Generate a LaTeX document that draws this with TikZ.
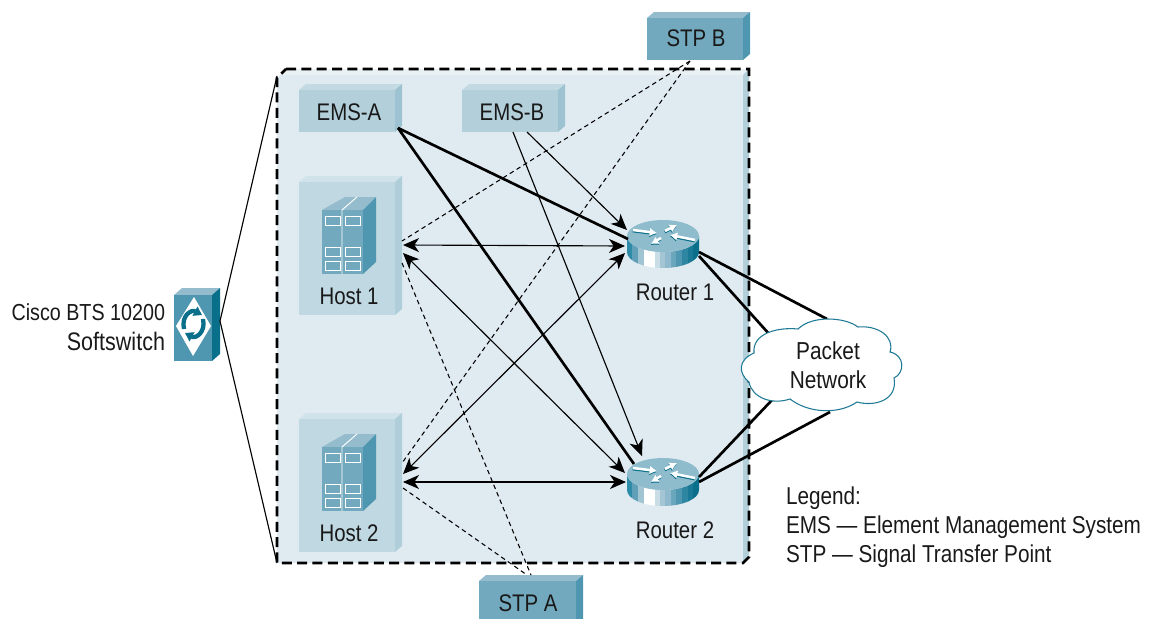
\documentclass[tikz,border=0pt]{standalone}
\usepackage{fontspec}
\setmainfont[FakeStretch=0.85]{Liberation Sans}
\usetikzlibrary{arrows.meta}
\definecolor{panelF}{HTML}{E0EBF1}
\definecolor{panelT}{HTML}{E9F1F5}
\definecolor{panelS}{HTML}{B3CFDA}
\definecolor{emsF}{HTML}{B3CFDA}
\definecolor{emsT}{HTML}{C3DAE3}
\definecolor{emsS}{HTML}{9DC3D2}
\definecolor{hostF}{HTML}{C0D8E2}
\definecolor{hostT}{HTML}{D0E2EA}
\definecolor{hostS}{HTML}{AFCEDA}
\definecolor{stpF}{HTML}{73A9BE}
\definecolor{stpT}{HTML}{94BCCC}
\definecolor{stpS}{HTML}{4F97B0}
\definecolor{swF}{HTML}{4F97B0}
\definecolor{swT}{HTML}{94BCCC}
\definecolor{swS}{HTML}{0A6F8A}
\definecolor{rtTop}{HTML}{8FBCCC}
\definecolor{cloudLine}{HTML}{1F7A96}
\tikzset{
  x=0.75pt,y=-0.75pt,
  face/.style={inner sep=0pt,outer sep=0pt},
  lbl/.style={inner sep=0pt,outer sep=0pt,font=\fontsize{18}{21}\selectfont,text=black!90},
  thickline/.style={black,line width=2pt},
  thinline/.style={black,line width=0.85pt},
  dashline/.style={black,line width=0.8pt,dash pattern=on 3.4pt off 2.6pt},
  tiptip/.style={arrows={Stealth[length=12pt,width=10.5pt,inset=3.5pt]-Stealth[length=12pt,width=10.5pt,inset=3.5pt]}},
  headtip/.style={-{Stealth[length=12pt,width=10.5pt,inset=3.5pt]}},
  border/.style={black,line width=1.9pt,dash pattern=on 7.5pt off 4pt},
  rarrow/.style={line width=1.9pt,-{Latex[length=5.5pt,width=6.5pt]}},
}
% name, x1, y1, x2, y2, palette
\newcommand\cubebox[6]{%
  \fill[#6T] (#2,#3) -- (#2+7,#3-6) -- (#4+7,#3-6) -- (#4,#3) -- cycle;
  \fill[#6S] (#4,#3) -- (#4+7,#3-6) -- (#4+7,#5-6) -- (#4,#5) -- cycle;
  \node[face,fill=#6F,minimum width={(#4-#2)*0.75pt},minimum height={(#5-#3)*0.75pt}] (#1) at ({(#2+#4)/2},{(#3+#5)/2}) {};
}
\newcommand\serverbody[2]{%
\begin{scope}[shift={(#1,#2)}]
  \fill[stpT] (322,210) -- (345,197) -- (376,197) -- (363,210) -- cycle;
  \fill[stpS] (363,210) -- (376,197) -- (376,262) -- (363,274) -- cycle;
  \fill[stpF] (322,210) rectangle (363,274);
  \draw[white,line width=0.7pt] (342,274) -- (342,210) -- (357,197);
  \foreach \yy/\hh in {216/9,247/9,261/9}
    \foreach \xx in {325,345}
      \draw[white,line width=0.6pt] (\xx,\yy) rectangle (\xx+15,\yy+\hh);
\end{scope}}
\newcommand\routerbody[2]{%
\begin{scope}[shift={(#1,#2)}]
  \begin{scope}
    \clip (-36,0) -- (-36,16) arc[start angle=180,end angle=0,x radius=36,y radius=16] -- (36,0) arc[start angle=0,end angle=180,x radius=36,y radius=16] -- cycle;
    \foreach \a/\b/\c in {-36/-31/2E8CA8,-31/-25/5FA0B8,-25/-19/A0C4D2,-19/-8/FFFFFF,-8/-3/C8DDE5,-3/2/A4C6D4,2/8/8FBACE,8/13/6AA6BC,13/19/4F97B0,19/25/2E86A2,25/30/1A7A96,30/37/0A6F8A}
      {\definecolor{tmpc}{HTML}{\c}\fill[tmpc] (\a,-16) rectangle (\b,34);}
  \end{scope}
  \fill[rtTop] (0,0) ellipse[x radius=36,y radius=16];
  \begin{scope}[shift={(-0.3,1.1)}]
    \draw[rarrow,swS] (-30,-6) -- (-6,-3);
    \draw[rarrow,swS] (2,-5) -- (14,-11);
    \draw[rarrow,swS] (32,4) -- (7,-1);
    \draw[rarrow,swS] (-2,2) -- (-12,8);
  \end{scope}
  \draw[rarrow,white] (-30,-6) -- (-6,-3);
  \draw[rarrow,white] (2,-5) -- (14,-11);
  \draw[rarrow,white] (32,4) -- (7,-1);
  \draw[rarrow,white] (-2,2) -- (-12,8);
\end{scope}}
\begin{document}
\begin{tikzpicture}
\useasboundingbox (0,0) rectangle (1159,618);
\clip (0,0) rectangle (1159,618);
% ports
\coordinate (swApex) at (220,321);
\coordinate (panelTL) at (277,76);
\coordinate (panelBL) at (277,563);
\coordinate (emsAout) at (398,128);
\coordinate (emsBoutA) at (527,132);
\coordinate (emsBoutB) at (513,132);
\coordinate (h1a) at (403,245);
\coordinate (h1b) at (403,253);
\coordinate (h1stpB) at (402,241);
\coordinate (h1stpA) at (402,263);
\coordinate (h2a) at (403,474);
\coordinate (h2b) at (403,482);
\coordinate (h2stpB) at (402,463);
\coordinate (h2stpA) at (403,488);
\coordinate (r1a) at (625,246);
\coordinate (r1b) at (625,253);
\coordinate (r1ems) at (627,230);
\coordinate (r1thick) at (628,239);
\coordinate (r1outA) at (699,252);
\coordinate (r1outB) at (699,256);
\coordinate (r2a) at (625,473);
\coordinate (r2b) at (626,482);
\coordinate (r2ems) at (642,456);
\coordinate (r2thick) at (634,464);
\coordinate (r2outA) at (699,477);
\coordinate (r2outB) at (699,482);
\coordinate (stpBport) at (690,61);
\coordinate (stpAportA) at (527,575);
\coordinate (stpAportB) at (531,575);
\coordinate (cl1) at (827,319);
\coordinate (cl2) at (770,335);
\coordinate (cl3) at (772,400);
\coordinate (cl4) at (830,412);
% panel
\path[fill=panelF] (286,69) -- (749,69) -- (749,557) -- (743,563) -- (277,563) -- (277,78) -- cycle;
\fill[panelT] (286,69) -- (749,69) -- (743,75) -- (280,75) -- cycle;
\fill[panelS] (743,75) -- (749,69) -- (749,557) -- (743,563) -- cycle;
\draw[border] (286,69) -- (749,69) -- (749,557) -- (743,563) -- (277,563) -- (277,78) -- cycle;
% softswitch
\fill[swT] (174,295) -- (182,288) -- (220,288) -- (212,295) -- cycle;
\fill[swS] (212,295) -- (220,288) -- (220,354) -- (212,361) -- cycle;
\node[face,fill=swF,minimum width=28.5pt,minimum height=49.5pt] (sw) at (193,328) {};
\fill[white] (194,297) -- (211,326) -- (193,356) -- (176,326) -- cycle;
\draw[swS,line width=3.2pt,-{Triangle[length=6pt,width=7.5pt]}] (184,329) .. controls (181,316) and (191,309) .. (202,315);
\draw[swS,line width=3.2pt,-{Triangle[length=6pt,width=7.5pt]}] (203,319) .. controls (206,332) and (196,339) .. (185,333);
\draw[black,line width=0.85pt] (panelTL) -- (swApex) -- (panelBL);
% boxes
\cubebox{emsA}{299}{90}{395}{132}{ems}
\cubebox{emsB}{462}{90}{558}{132}{ems}
\cubebox{hostA}{299}{182}{395}{315}{host}
\cubebox{hostB}{299}{419}{395}{552}{host}
\cubebox{stpB}{647}{18}{743}{60}{stp}
\cubebox{stpA}{479}{581}{576}{640}{stp}
\node[lbl] (emsAl) at (349,112) {EMS-A};
\node[lbl] (emsBl) at (512,112) {EMS-B};
\node[lbl] (stpBl) at (696,38) {STP B};
\node[lbl] (stpAl) at (528,603) {STP A};
\serverbody{0}{0}
\serverbody{0}{237}
\node[lbl] (hostAl) at (349,296) {Host 1};
\node[lbl] (hostBl) at (349,533) {Host 2};
% routers
\routerbody{663}{236}
\routerbody{663}{474}
\node[lbl] (rAl) at (675,292) {Router 1};
\node[lbl] (rBl) at (675,530) {Router 2};
% connectors
\draw[dashline] (stpBport) -- (h1stpB);
\draw[dashline] (stpBport) -- (h2stpB);
\draw[dashline] (h1stpA) -- (stpAportB);
\draw[dashline] (h2stpA) -- (stpAportA);
\draw[thickline] (emsAout) -- (r1thick);
\draw[thickline] (emsAout) -- (r2thick);
\draw[thinline,headtip] (emsBoutA) -- (r1ems);
\draw[thinline,headtip] (emsBoutB) -- (r2ems);
\draw[thinline,tiptip] (h1a) -- (r1a);
\draw[thinline,tiptip] (h1b) -- (r2a);
\draw[thinline,tiptip] (h2a) -- (r1b);
\draw[thinline,tiptip] (h2b) -- (r2b);
\draw[thickline] (r1outA) -- (cl1);
\draw[thickline] (r1outB) -- (cl2);
\draw[thickline] (r2outA) -- (cl3);
\draw[thickline] (r2outB) -- (cl4);
% cloud
\draw[fill=white,draw=cloudLine,line width=0.8pt]
  (749,382) .. controls (738,373) and (738,360) .. (754,353)
  .. controls (752,333) and (778,327) .. (798,329)
  .. controls (812,315) and (845,317) .. (858,327)
  .. controls (878,325) and (895,337) .. (890,352)
  .. controls (905,355) and (905,373) .. (894,378)
  .. controls (898,400) and (875,407) .. (857,402)
  .. controls (838,415) and (808,413) .. (790,399)
  .. controls (772,405) and (752,398) .. (749,382) -- cycle;
\node[lbl,align=center,font=\fontsize{18.4}{21.75}\selectfont] (cloud) at (828,365) {Packet\\Network};
% side labels
\node[lbl,anchor=east,font=\fontsize{17.4}{21}\selectfont] (swlA) at (165,312) {Cisco BTS 10200};
\node[lbl,anchor=east,font=\fontsize{19}{21}\selectfont] (swlB) at (165,341) {Softswitch};
\node[lbl,anchor=west,font=\fontsize{18.3}{21}\selectfont] (legA) at (786,498) {Legend:};
\node[lbl,anchor=west,font=\fontsize{18.3}{21}\selectfont] (legB) at (786,527) {EMS — Element Management System};
\node[lbl,anchor=west,font=\fontsize{18.3}{21}\selectfont] (legC) at (786,556) {STP — Signal Transfer Point};
\end{tikzpicture}
\end{document}
